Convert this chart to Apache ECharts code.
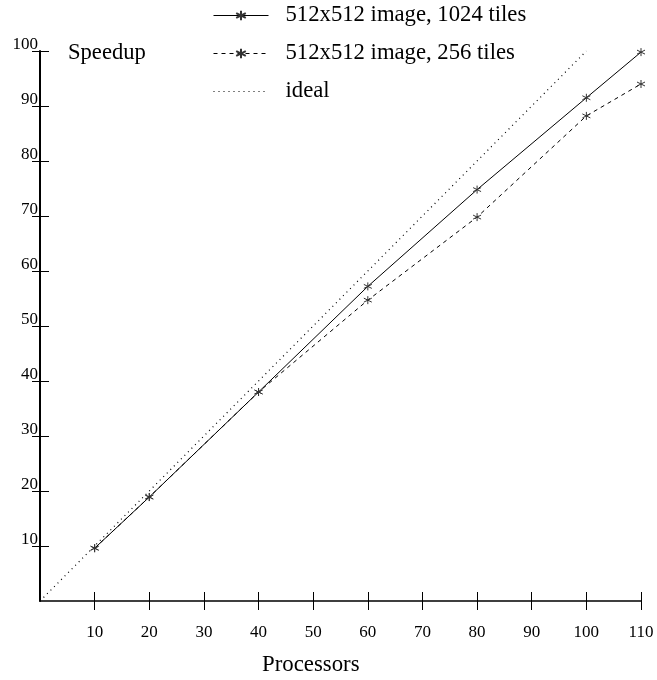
<!DOCTYPE html>
<html>
<head>
<meta charset="utf-8">
<script src="https://cdn.jsdelivr.net/npm/echarts@6/dist/echarts.min.js"></script>
<style>
  html, body { margin: 0; padding: 0; background: #fff; }
  #chart { width: 657px; height: 680px; }
</style>
</head>
<body>
<div id="chart"></div>
<script>
var processors = [10, 20, 40, 60, 80, 100, 110];
var speedup1024 = [9.6, 18.9, 38, 57.2, 74.8, 91.5, 99.8];
var speedup256 = [9.6, 18.9, 38, 54.7, 69.8, 88.2, 94];
var idealX = [0, 100];
var idealY = [0, 100];
var xTicks = [10, 20, 30, 40, 50, 60, 70, 80, 90, 100, 110];
var yTicks = [10, 20, 30, 40, 50, 60, 70, 80, 90, 100];

function pairs(xs, ys) {
  var out = [];
  for (var i = 0; i < xs.length; i++) { out.push([xs[i], ys[i]]); }
  return out;
}

var font = "'Liberation Serif', 'DejaVu Serif', serif";
var star = 'path://M5,0L5,10M0.7,2.5L9.3,7.5M0.7,7.5L9.3,2.5';

var chart = echarts.init(document.getElementById('chart'));
chart.setOption({
  animation: false,
  backgroundColor: '#fff',
  textStyle: { fontFamily: font, color: '#000' },
  title: [
    { text: 'Speedup', left: 68, top: 42, padding: 0,
      textStyle: { fontFamily: font, fontSize: 22.6, fontWeight: 'normal', color: '#000' } },
    { text: 'Processors', left: 262, top: 654, padding: 0,
      textStyle: { fontFamily: font, fontSize: 22.8, fontWeight: 'normal', color: '#000' } }
  ],
  legend: {
    orient: 'vertical',
    left: 213,
    top: 4,
    padding: 0,
    itemWidth: 55,
    itemHeight: 12,
    itemGap: 15,
    lineStyle: { width: 1 },
    textStyle: { fontFamily: font, fontSize: 22.7, lineHeight: 22, color: '#000', padding: [0, 0, 0, 12] },
    data: [
      '512x512 image, 1024 tiles',
      '512x512 image, 256 tiles',
      { name: 'ideal', itemStyle: { color: 'transparent', borderWidth: 0, opacity: 0 } }
    ]
  },
  grid: { left: 40, right: 16, top: 51, bottom: 79 },
  xAxis: [
    {
      type: 'value', min: 0, max: 110, interval: 10,
      axisLine: { show: true, lineStyle: { color: '#000', width: 1.5 } },
      axisTick: { show: true, length: 9, customValues: xTicks, lineStyle: { color: '#000' } },
      axisLabel: { customValues: xTicks, fontFamily: font, fontSize: 17, color: '#000', margin: 23 },
      splitLine: { show: false }
    },
    {
      type: 'value', min: 0, max: 110, interval: 10, position: 'bottom',
      axisLine: { show: false },
      axisTick: { show: true, inside: true, length: 9, customValues: xTicks, lineStyle: { color: '#000' } },
      axisLabel: { show: false },
      splitLine: { show: false }
    }
  ],
  yAxis: [
    {
      type: 'value', min: 0, max: 100, interval: 10,
      axisLine: { show: true, lineStyle: { color: '#000', width: 2 } },
      axisTick: { show: true, length: 8, customValues: yTicks, lineStyle: { color: '#000' } },
      axisLabel: { customValues: yTicks, fontFamily: font, fontSize: 17, color: '#000',
        margin: 2, verticalAlign: 'bottom', lineHeight: 13 },
      splitLine: { show: false }
    },
    {
      type: 'value', min: 0, max: 100, interval: 10, position: 'left',
      axisLine: { show: false },
      axisTick: { show: true, inside: true, length: 9, customValues: yTicks, lineStyle: { color: '#000' } },
      axisLabel: { show: false },
      splitLine: { show: false }
    }
  ],
  series: [
    {
      name: '512x512 image, 1024 tiles',
      type: 'line',
      data: pairs(processors, speedup1024),
      symbol: star, symbolSize: 8,
      lineStyle: { color: '#000', width: 1 },
      itemStyle: { color: 'none', borderColor: '#333', borderWidth: 1 }
    },
    {
      name: '512x512 image, 256 tiles',
      type: 'line',
      data: pairs(processors, speedup256),
      symbol: star, symbolSize: 8,
      lineStyle: { color: '#000', width: 1, type: [4, 4] },
      itemStyle: { color: 'none', borderColor: '#333', borderWidth: 1 }
    },
    {
      name: 'ideal',
      type: 'line',
      data: pairs(idealX, idealY),
      symbol: 'none',
      lineStyle: { color: '#000', width: 1.2, type: [1, 4] },
      itemStyle: { color: '#000' }
    }
  ]
});
</script>
</body>
</html>
